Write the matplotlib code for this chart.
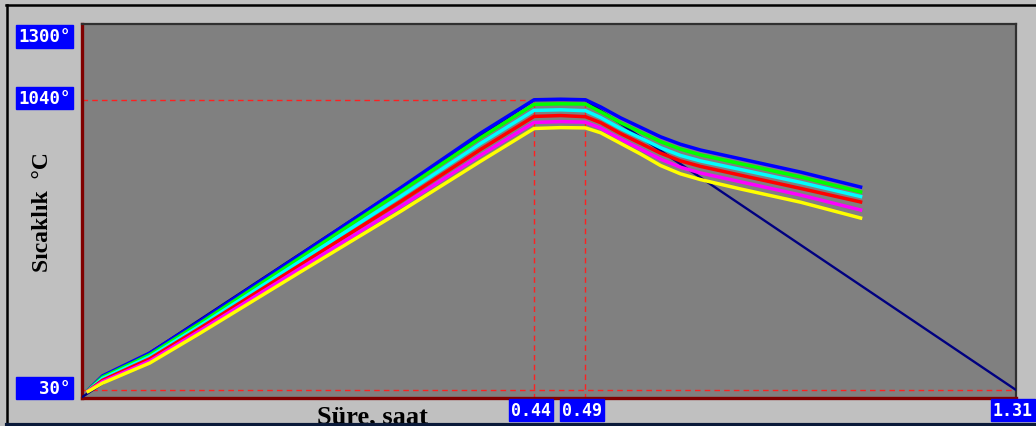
"""Furnace temperature profile chart (Sıcaklık vs Süre)."""

import matplotlib

matplotlib.use("Agg")
import matplotlib.pyplot as plt
import numpy as np
from matplotlib.lines import Line2D
from matplotlib.scale import FuncScale

FIG_W, FIG_H = 1036, 427

# set point curve: heat to 1040, hold, cool down to 30
SET_TIME_H = [0.0, 0.44, 0.49, 1.31]
SET_TEMP_C = [5, 1040, 1040, 30]

TIME_H = [0.006, 0.02, 0.066, 0.115, 0.212, 0.31, 0.388, 0.44, 0.466,
          0.49, 0.519, 0.557, 0.595, 0.633, 0.671, 0.709, 0.786, 0.90, 1.014]
BLUE_C = [30, 79, 159, 270, 500, 734, 925, 1041, 1043,
          1041, 1016, 978, 945, 912, 886, 866, 835, 789, 737]
GREEN_C = [29, 75, 153, 263, 490, 721, 909, 1025, 1027,
           1026, 999, 961, 928, 895, 869, 849, 818, 772, 720]
CYAN_C = [28, 70, 146, 254, 478, 704, 889, 1004, 1006,
          1003, 979, 941, 908, 874, 847, 828, 798, 753, 704]
RED_C = [27, 64, 139, 246, 465, 686, 868, 983, 986,
         982, 961, 923, 889, 855, 828, 809, 778, 732, 685]
MAGENTA_C = [26, 59, 131, 237, 453, 669, 848, 962, 965,
             963, 942, 904, 869, 834, 806, 786, 755, 709, 657]
YELLOW_C = [25, 54, 124, 228, 440, 652, 827, 941, 944,
            943, 926, 889, 852, 812, 783, 763, 730, 684, 629]

CURVES = [
    (BLUE_C, "#0000FF"),
    (GREEN_C, "#00FF00"),
    (CYAN_C, "#00FFFF"),
    (RED_C, "#FF0000"),
    (MAGENTA_C, "#FF00FF"),
    (YELLOW_C, "#FFFF00"),
]

Y_TICKS = [1300, 1040, 30]
Y_TICK_LABELS = ["1300°", "1040°", "  30°"]
X_TICKS = [0.44, 0.49, 1.31]
X_TICK_LABELS = ["0.44", "0.49", "1.31"]

HOLD_START, HOLD_END = 0.44, 0.49
COOL_SQUEEZE = 0.511  # the cooling part of the time axis is drawn compressed


def forward(t):
    t = np.asarray(t, dtype=float)
    return np.where(t <= HOLD_END, t, HOLD_END + (t - HOLD_END) * COOL_SQUEEZE)


def inverse(u):
    u = np.asarray(u, dtype=float)
    return np.where(u <= HOLD_END, u, HOLD_END + (u - HOLD_END) / COOL_SQUEEZE)


def px(x, y):
    """Figure pixel (from top-left) to figure fraction."""
    return x / FIG_W, 1 - y / FIG_H


def main() -> None:
    fig = plt.figure(figsize=(FIG_W / 100, FIG_H / 100), dpi=100)
    fig.patch.set_facecolor("#C0C0C0")

    left, bottom = px(82, 399)
    right, top = px(1016, 25)
    ax = fig.add_axes([left, bottom, right - left, top - bottom])
    ax.set_facecolor("#808080")
    ax.set_xscale(FuncScale(ax, (forward, inverse)))
    ax.set_xlim(0, 1.31)
    ax.set_ylim(2, 1305)
    ax.set_xticks([])
    ax.set_yticks([])

    for side in ("left", "bottom"):
        ax.spines[side].set_color("#800000")
        ax.spines[side].set_linewidth(2.4)
    for side in ("top", "right"):
        ax.spines[side].set_color("#303030")
        ax.spines[side].set_linewidth(1.6)

    # red dashed guide lines
    guide = dict(color="#FF2020", lw=1.0, dashes=(4, 3), zorder=2)
    ax.plot([0, HOLD_START], [1040, 1040], **guide)
    ax.plot([HOLD_START, HOLD_START], [0, 1040], **guide)
    ax.plot([HOLD_END, HOLD_END], [0, 1040], **guide)
    ax.plot([0, 1.31], [30, 30], **guide)

    ax.plot(SET_TIME_H, SET_TEMP_C, color="#000080", lw=1.7, zorder=3)
    for values, color in CURVES:
        ax.plot(TIME_H, values, color=color, lw=2.5, zorder=4,
                solid_joinstyle="round")

    # blue value boxes on the axes
    box = dict(boxstyle="square,pad=0.12", fc="#0000FF", ec="#0000FF")
    font = dict(family="DejaVu Sans Mono", weight="bold", color="white")
    for value, label in zip(Y_TICKS, Y_TICK_LABELS):
        va = "top" if value == 1300 else "center"
        ax.annotate(label, xy=(0, value), xycoords=("axes fraction", "data"),
                    xytext=(-11, 2 if va == "center" else -2),
                    textcoords="offset pixels", ha="right", va=va,
                    fontsize=12.5, bbox=box, annotation_clip=False, **font)
    for value, label in zip(X_TICKS, X_TICK_LABELS):
        ax.annotate(label, xy=(value, 0), xycoords=("data", "axes fraction"),
                    xytext=(-3, -3), textcoords="offset pixels",
                    ha="center", va="top", fontsize=12, bbox=box,
                    annotation_clip=False, **font)

    label_font = dict(family="Liberation Serif", weight="bold", color="black")
    fig.text(*px(42, 212), "Sıcaklık  °C", rotation=90, ha="center",
             va="center", fontsize=17, **label_font)
    fig.text(*px(372, 423), "Süre, saat", ha="center", va="baseline",
             fontsize=19, zorder=1, **label_font)

    # window frame
    fig.add_artist(Line2D([6 / FIG_W, 1], [1 - 6 / FIG_H] * 2,
                          color="black", lw=1.8))
    fig.add_artist(Line2D([7 / FIG_W] * 2, [0, 1 - 6 / FIG_H],
                          color="black", lw=1.8))
    fig.add_artist(Line2D([7 / FIG_W, 1], [1.5 / FIG_H] * 2,
                          color="#0A1A3A", lw=3.0, zorder=10))

    fig.savefig("out.png", dpi=100, facecolor=fig.get_facecolor())


if __name__ == "__main__":
    main()
